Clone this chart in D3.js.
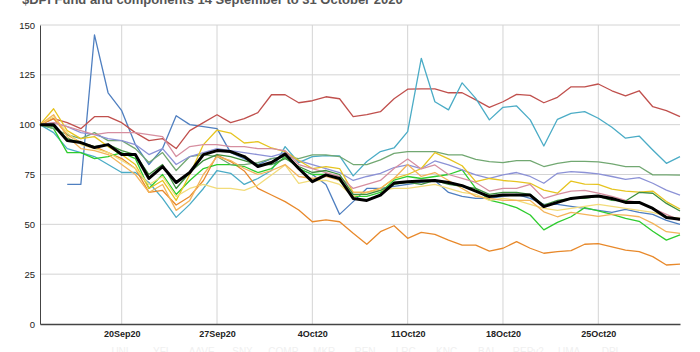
<!DOCTYPE html>
<html>
<head>
<meta charset="utf-8">
<script src="https://cdn.jsdelivr.net/npm/d3@7"></script>
<style>
  body { margin: 0; background: #fff; }
  svg { display: block; font-family: "Liberation Sans", Arial, sans-serif; }
</style>
</head>
<body>
<div id="chart"></div>
<script>
// days 14 Sep 2020 .. 31 Oct 2020
const startDay = new Date(2020, 8, 14);
const endDay = new Date(2020, 9, 31);
const days = d3.timeDay.range(startDay, d3.timeDay.offset(endDay, 1));

const yTicks = [0, 25, 50, 75, 100, 125, 150];
const xTicks = [new Date(2020, 8, 20), new Date(2020, 8, 27), new Date(2020, 9, 4),
                new Date(2020, 9, 11), new Date(2020, 9, 18), new Date(2020, 9, 25)];

const names  = ["UNI", "YFI", "AAVE", "SNX", "COMP", "MKR", "REN", "LRC", "KNC", "BAL", "REPv2", "UMA", "DPI"];
const colors = ["#4f7fc0", "#c0504d", "#4bacc6", "#e8892b", "#2ecc2e", "#72a872", "#8c92d6",
                "#e6c420", "#f2dc7a", "#d68fa0", "#f3b45a", "#3f8f3f", "#000000"];

const uni  = [null,null,70,70,145,116,107,90,80,88,104.5,100,99,98,86,83,80,83,84,78,75,70,55,61.4,68,68,69,70,71,72,66,64,63,63,64,65,63,60,60,59,58,57,56,57.5,56,55,52,50];
const yfi  = [100,103,101,98,104,104,101,96,92,93,88,97,101,105,101,103,106,115,115,111,112,114,113,104,105,106.5,113,117.8,118,118,116,116,112.4,108.7,111.5,115.2,114.7,111,113.7,119,119,120.4,117,114.4,117,109,107,104];
const aave = [100,96,88,86,84,80,76,76,71,63,53.5,60,68,77,75.6,70,73,77,89,81,84,84.5,84.3,74.3,81.5,86.5,88.3,96.5,133.3,111.5,107.4,121,113.2,102.4,108.7,109.4,102.4,89.3,102.7,105.7,106.5,103.2,98.7,93.2,94.3,87.3,80.6,84];
const snx  = [100,103,95,91,89,86,83,78,66,67,59.7,64,72,84.8,81.5,76.8,68,64.7,61.4,57.2,51.3,52.2,51.3,45.5,40,46.3,49.3,43,46,45,42.1,39.6,39.6,36.6,38,41.3,38,35.5,36.3,36.8,40,40.3,38.7,37.1,36.3,33.8,29.6,30];
const comp = [100,98,86,86,83,84,86,83,68,75,65,72,78,80,80,79,76,78,84,78,75,75,72,64,64,66,72.2,74,73,74,75,77.3,68,62.2,60.5,58.4,54.7,47.2,51,53.8,58.4,56.7,55,53,51.5,46.5,42.1,44.7];
const mkr  = [100,98,95,93,96,92,92,88,81,86,77,84,85,84,80,80,81,83,84,83,84.8,84.8,84,80,80,82.3,85.6,86.5,86.5,86.5,84.8,84.8,82.6,81.5,81,82,82,79,80.6,81.6,81.6,81.3,80.3,79,79,74.8,74.8,74.7];
const ren  = [100,101,99,96,95,93,92,90,85,88,80,84,86,88,87,86,85,84,86,82,80,78,76,72,74,75.6,78.5,79.8,78,81.8,79.8,77.3,74.8,73.1,74.8,76,74,70.6,75.6,76.4,76,75.3,74,72.6,73.4,70.6,67.2,64.7];
const lrc  = [100,108,97,93,94,89,85,80,68,72,62,75,90,97.3,95.8,90.8,91.5,88.3,86.5,82,78,79,78,66,66,68,73,75,78,86,82.8,79.4,71.4,73,72,71.4,70.6,67.2,65.6,71.7,70.2,70,67.7,66.7,66.2,66.7,61.4,57.7];
const knc  = [100,104,96,90,88,86,82,78,70,74,64,68,70,68,68,67,69.7,74.8,79.8,70.6,72,72,70,64,66,67,68,68,69,70,68,66,65,62,63,62,60,58,57,58,59,60,59,58,57,56,54,53];
const bal  = [100,101,99,97,95,96,96,96,95,94,84,89,90,90,89,89,88,88,87,80,78,76,74,68,70,72,78,82.8,77.8,79.8,75,73,71,66.7,68,68,70,63,65,66.7,67,65.6,64,62,61,58,55,52];
const rep  = [100,105,94,88,87,85,80,75,66,70,57,62,75,84,82,78,75,77,80,74,73,74,72,66,66,68,73,80,74,76,72,68,64,63,62,62,62,56.3,53.8,56,55,54,55,54.6,53.8,50.5,46.3,45.5];
const uma  = [100,99,93,91,89,90,87,85,75,80,68,76,82,85,84,82,80,80,83,79,76,77,75,65,65,67,70,71,70,72,70,69,68,65,66,66,65,59.7,62,63,63,64,62,61.7,66,65.6,60.5,56.7];
const dpi  = [100,100,92,91,88.5,90,85,85,73,79,71,76,85,87,86.5,84,79,81,85.3,78,71.4,74.8,73,63,62,64.7,70.7,71.4,71.7,72,71,69.4,66.7,63.9,64.7,64.7,64.7,58.9,61,63,63.7,64.2,63,61,61,58,53.4,52.5];

const seriesValues = [uni, yfi, aave, snx, comp, mkr, ren, lrc, knc, bal, rep, uma, dpi];

const W = 700, H = 352;
const margin = { top: 25, right: 20, bottom: 28, left: 40 };

const svg = d3.select("#chart").append("svg")
    .attr("width", W)
    .attr("height", H);

const x = d3.scaleTime()
    .domain([startDay, endDay])
    .range([margin.left, W - margin.right]);

const y = d3.scaleLinear()
    .domain([0, 150])
    .range([H - margin.bottom, margin.top]);

// title, mostly cropped off the top
svg.append("text")
    .attr("x", 22)
    .attr("y", 4)
    .attr("font-size", 13)
    .attr("font-weight", "bold")
    .attr("fill", "#555")
    .text("$DPI Fund and components 14 September to 31 October 2020");

// grid
svg.append("g")
    .selectAll("line")
    .data(yTicks.filter(d => d > 0))
    .join("line")
    .attr("x1", margin.left).attr("x2", W - margin.right)
    .attr("y1", d => y(d)).attr("y2", d => y(d))
    .attr("stroke", "#d4d4d4");

svg.append("g")
    .selectAll("line")
    .data(xTicks)
    .join("line")
    .attr("x1", d => x(d)).attr("x2", d => x(d))
    .attr("y1", margin.top).attr("y2", H - margin.bottom)
    .attr("stroke", "#d4d4d4");

// axes
const yAxis = svg.append("g")
    .attr("transform", `translate(${margin.left},0)`)
    .call(d3.axisLeft(y).tickValues(yTicks).tickSize(0).tickPadding(5));
yAxis.select(".domain").attr("stroke", "#444");
yAxis.selectAll("text").attr("font-size", 9.5).attr("fill", "#222")
    .attr("font-family", "'Liberation Sans', Arial, sans-serif");

const xAxis = svg.append("g")
    .attr("transform", `translate(0,${H - margin.bottom})`)
    .call(d3.axisBottom(x).tickValues(xTicks).tickSize(0).tickPadding(7)
        .tickFormat(d3.timeFormat("%-d%b%y")));
xAxis.select(".domain").attr("stroke", "#444").attr("stroke-width", 1.3);
xAxis.selectAll("text").attr("font-size", 9).attr("font-weight", "bold").attr("fill", "#222")
    .attr("font-family", "'Liberation Sans', Arial, sans-serif");

// lines
const line = d3.line()
    .defined(d => d != null)
    .x((d, i) => x(days[i]))
    .y(d => y(d));

svg.append("g")
    .selectAll("path")
    .data(seriesValues)
    .join("path")
    .attr("fill", "none")
    .attr("stroke", (d, i) => colors[i])
    .attr("stroke-width", (d, i) => names[i] === "DPI" ? 3 : 1.3)
    .attr("stroke-linejoin", "round")
    .attr("d", line);

// legend, cut off at the bottom edge (very faint in the original)
const lx = d3.scalePoint().domain(names).range([120, 610]);
svg.append("g")
    .selectAll("text")
    .data(names)
    .join("text")
    .attr("x", d => lx(d))
    .attr("y", H + 3)
    .attr("text-anchor", "middle")
    .attr("font-size", 10)
    .attr("fill", "#f0f0f0")
    .text(d => d);
</script>
</body>
</html>
